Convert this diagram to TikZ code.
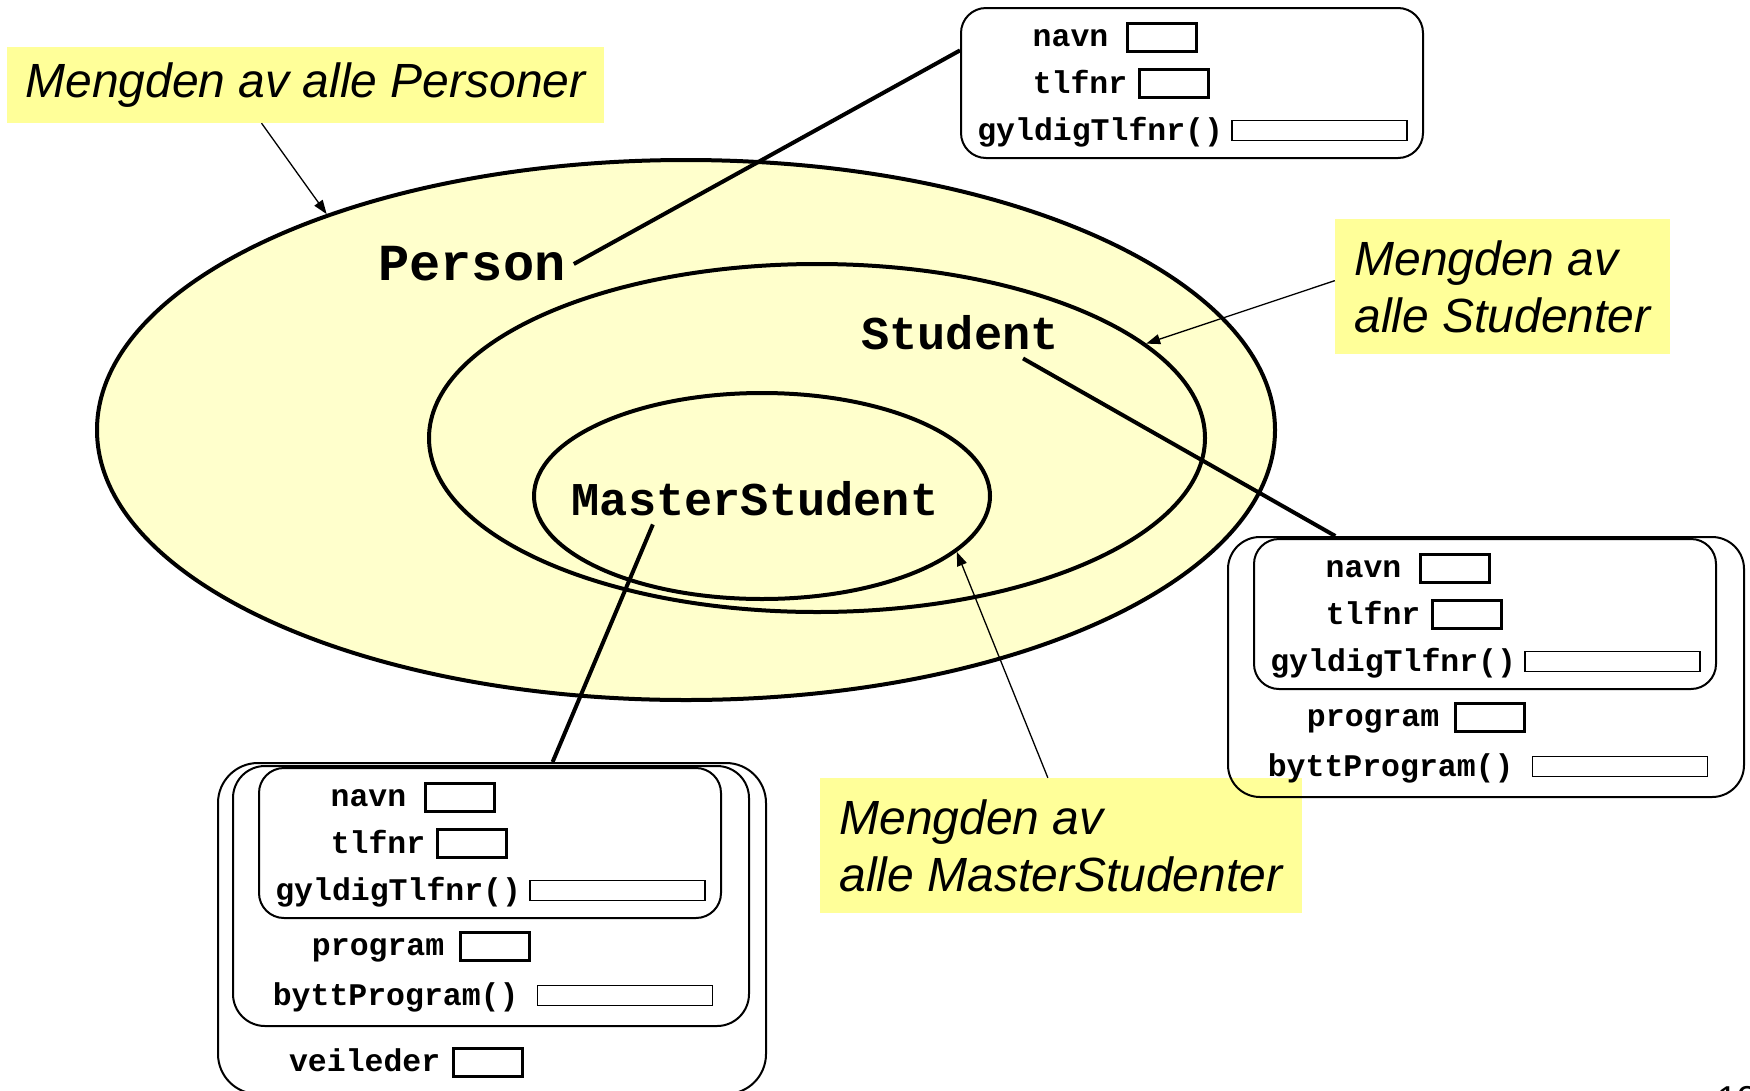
\documentclass[tikz,border=0pt]{standalone}
\usepackage{fontspec}
\setmainfont{Liberation Sans}
\setmonofont{Liberation Mono}
\usetikzlibrary{positioning,shapes.geometric,arrows.meta}
\definecolor{mengdefarge}{HTML}{FFFFCC}
\definecolor{lappfarge}{HTML}{FFFF99}

\begin{document}
\begin{tikzpicture}[x=1pt,y=-1pt,
  mengde/.style={ellipse, draw, fill=mengdefarge, line width=4pt, inner sep=0pt},
  klasse/.style={font=\ttfamily\bfseries\fontsize{47}{52}\selectfont, inner sep=8pt},
  lapp/.style={fill=lappfarge, align=left, inner sep=0pt, font=\itshape\fontsize{48}{57}\selectfont},
  objekt/.style={draw, line width=2pt, rounded corners=25pt, inner sep=0pt},
  felt/.style={draw, line width=3pt, minimum width=69pt, minimum height=28pt, inner sep=0pt},
  langfelt/.style={draw, line width=1.5pt, minimum width=175pt, minimum height=20pt, inner sep=0pt},
  attr/.style={font=\ttfamily\bfseries\fontsize{31.5}{36}\selectfont, inner sep=0pt, text height=19pt, text depth=0pt},
  peker/.style={line width=1.3pt, -{Triangle[length=14pt,width=10pt]}},
  kobling/.style={line width=4pt}]

  \useasboundingbox (0,0) rectangle (1750,1090);

  % mengdene
  \node[mengde, minimum width=1178pt, minimum height=540pt] (ePerson) at (686,430) {};
  \node[mengde, minimum width=776pt, minimum height=348pt] (eStudent) at (817,438) {};
  \node[mengde, minimum width=456pt, minimum height=206pt] (eMaster) at (762,496) {};

  \node[klasse, font=\ttfamily\bfseries\fontsize{52}{58}\selectfont] (tPerson) at (472,264) {Person};
  \node[klasse] (tStudent) at (960,333) {Student};
  \node[klasse] (tMaster) at (755,499) {MasterStudent};

  % lappene
  \node[lapp, minimum width=597pt, minimum height=76pt] (lPerson) at (305.5,85) {Mengden av alle Personer};
  \node[lapp, minimum width=335pt, minimum height=135pt] (lStudent) at (1502.5,286.5) {Mengden av\\alle Studenter};
  \node[lapp, minimum width=482pt, minimum height=135pt] (lMaster) at (1061,845.5) {Mengden av\\alle MasterStudenter};

  % objektene
  \node[objekt, minimum width=462pt, minimum height=150pt] (bPerson) at (1192,83) {};
  \node[objekt, rounded corners=32pt, minimum width=516pt, minimum height=260pt] (bStudent) at (1486,667) {};
  \node[objekt, minimum width=462pt, minimum height=150pt] (bStudentP) at (1485,614) {};
  \node[objekt, rounded corners=40pt, minimum width=548pt, minimum height=331pt] (bMaster) at (492,928.5) {};
  \node[objekt, rounded corners=32pt, minimum width=516pt, minimum height=260pt] (bMasterS) at (491,896) {};
  \node[objekt, minimum width=462pt, minimum height=150pt] (bMasterP) at (490,843) {};

  % Person
  \node[felt] (pNavn) at (1161.5,37) {};
  \node[attr, left=17pt of pNavn] (pNavnT) {navn};
  \node[felt] (pTlf) at (1173.5,83.5) {};
  \node[attr, left=10pt of pTlf] (pTlfT) {tlfnr};
  \node[langfelt] (pGyldig) at (1319.5,130.5) {};
  \node[attr, left=8pt of pGyldig] (pGyldigT) {gyldigTlfnr()};

  % Student
  \node[felt] (sNavn) at (1454.5,568) {};
  \node[attr, left=17pt of sNavn] (sNavnT) {navn};
  \node[felt] (sTlf) at (1466.5,614.5) {};
  \node[attr, left=10pt of sTlf] (sTlfT) {tlfnr};
  \node[langfelt] (sGyldig) at (1612.5,661.5) {};
  \node[attr, left=8pt of sGyldig] (sGyldigT) {gyldigTlfnr()};
  \node[felt] (sProg) at (1489.5,717) {};
  \node[attr, left=14pt of sProg] (sProgT) {program};
  \node[langfelt] (sBytt) at (1620,766.5) {};
  \node[attr, left=18pt of sBytt] (sByttT) {byttProgram()};

  % MasterStudent
  \node[felt] (mNavn) at (459.5,797) {};
  \node[attr, left=17pt of mNavn] (mNavnT) {navn};
  \node[felt] (mTlf) at (471.5,843.5) {};
  \node[attr, left=10pt of mTlf] (mTlfT) {tlfnr};
  \node[langfelt] (mGyldig) at (617.5,890.5) {};
  \node[attr, left=8pt of mGyldig] (mGyldigT) {gyldigTlfnr()};
  \node[felt] (mProg) at (494.5,946) {};
  \node[attr, left=14pt of mProg] (mProgT) {program};
  \node[langfelt] (mBytt) at (625,995.5) {};
  \node[attr, left=18pt of mBytt] (mByttT) {byttProgram()};
  \node[felt] (mVeil) at (487.5,1062) {};
  \node[attr, left=11pt of mVeil] (mVeilT) {veileder};

  \node[anchor=north west, inner sep=0pt, font=\fontsize{36}{40}\selectfont] (sideNr) at (1717,1086) {12};

  \path (tPerson.east) [kobling] edge (bPerson.172);
  \path (tStudent.-22) [kobling] edge (bStudent.139.1);
  \path (tMaster.194) [kobling] edge (bMaster.70.4);

  \path (lPerson.221.8) [peker] edge (ePerson.149.8);
  \path (lStudent.178) [peker] edge (eStudent.16.8);
  \path (lMaster.101) [peker] edge (eMaster.-16.2);
\end{tikzpicture}
\end{document}
